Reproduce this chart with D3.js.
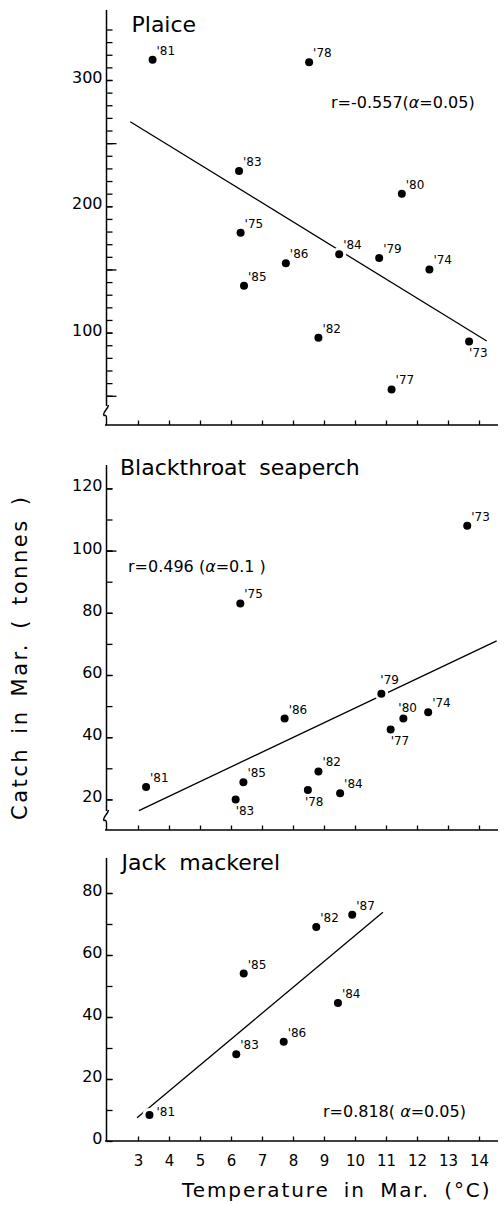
<!DOCTYPE html>
<html><head><meta charset="utf-8">
<script src="https://cdn.jsdelivr.net/npm/d3@7"></script>
<style>body{margin:0;background:#fff}svg{display:block}</style>
</head><body>
<svg id="c" width="504" height="1206"></svg>
<script>
// ---------- data ----------
const tempTicks = [3,4,5,6,7,8,9,10,11,12,13,14];

const plaiceYears = ["'73","'74","'75","'77","'78","'79","'80","'81","'82","'83","'84","'85","'86"];
const plaiceTemp  = [13.68,12.40,6.31,11.18,8.52,10.78,11.51,3.47,8.82,6.26,9.49,6.42,7.77];
const plaiceCatch = [93,150,179,55,314,159,210,316,96,228,162,137,155];
const plaiceLabelPos = ["br","ur","ur","ur","ur","ur","ur","ur","ur","ur","ur","ur","ur"];
const plaiceFitT = [2.75,14.25];
const plaiceFitC = [267,93.3];
const plaiceYTicks = [100,200,300];

const perchYears = ["'73","'74","'75","'77","'78","'79","'80","'81","'82","'83","'84","'85","'86"];
const perchTemp  = [13.62,12.36,6.30,11.15,8.48,10.85,11.56,3.26,8.82,6.15,9.52,6.40,7.73];
const perchCatch = [108,48,83,42.5,23,54,46,24,29,20,22,25.5,46];
const perchLabelPos = ["ur","ur","ur","br","bl","u","ul","ur","ur","br","ur","ur","ur"];
const perchFitT = [3.03,14.57];
const perchFitC = [16.4,71];
const perchYTicks = [20,40,60,80,100,120];

const mackYears = ["'81","'82","'83","'84","'85","'86","'87"];
const mackTemp  = [3.37,8.75,6.17,9.45,6.41,7.70,9.91];
const mackCatch = [8.4,69,28,44.5,54,32,73];
const mackLabelPos = ["r","ur","ur","ur","ur","ur","ur"];
const mackFitT = [2.97,10.90];
const mackFitC = [7.5,73.8];
const mackYTicks = [0,20,40,60,80];

const titles = ["Plaice","Blackthroat seaperch","Jack mackerel"];
const rTexts = [["r=-0.557(","α","=0.05)"],["r=0.496 (","α","=0.1 )"],["r=0.818( ","α","=0.05)"]];
const xTitle = "Temperature in Mar. (°C)";
const yTitle = "Catch in Mar. ( tonnes )";

// ---------- layout ----------
const svg = d3.select("#c");
svg.append("rect").attr("width",504).attr("height",1206).attr("fill","#fff");
const FONT = "'DejaVu Sans', Verdana, sans-serif";
const x = d3.scaleLinear().domain([2,14.6]).range([107,497.6]);

const panels = [
  {years:plaiceYears,t:plaiceTemp,c:plaiceCatch,pos:plaiceLabelPos,fitT:plaiceFitT,fitC:plaiceFitC,
   labels:plaiceYTicks, y:d3.scaleLinear().domain([0,300]).range([458.9,80]),
   minor:d3.range(50,341,10), longT:[50,150,250], top:10, axisY:425, brk:true,
   title:titles[0], titleXY:[131.5,32], r:rTexts[0], rXY:[331,108], xlabels:false},
  {years:perchYears,t:perchTemp,c:perchCatch,pos:perchLabelPos,fitT:perchFitT,fitC:perchFitC,
   labels:perchYTicks, y:d3.scaleLinear().domain([0,120]).range([861.6,488.4]),
   minor:d3.range(20,121,10), longT:[100], top:465, axisY:830, brk:true,
   title:titles[1], titleXY:[120,475], r:rTexts[1], rXY:[128,572], xlabels:false},
  {years:mackYears,t:mackTemp,c:mackCatch,pos:mackLabelPos,fitT:mackFitT,fitC:mackFitC,
   labels:mackYTicks, y:d3.scaleLinear().domain([0,80]).range([1141,893]),
   minor:d3.range(10,81,10), longT:[], top:858, axisY:1141, brk:false,
   title:titles[2], titleXY:[121.5,870], r:rTexts[2], rXY:[323,1117], xlabels:true}
];

const off = {ur:[4,-5], u:[-1,-10], ul:[-5,-7], br:[0,16], bl:[-3,16], r:[7,1]};
const AX = 106.5;

panels.forEach(p => {
  const g = svg.append("g");
  const y = p.y;
  if (p.brk) {
    g.append("line").attr("x1",AX).attr("x2",AX).attr("y1",p.top).attr("y2",p.axisY-19)
      .attr("stroke","#000").attr("stroke-width",1.5);
    g.append("path").attr("d",`M${AX+2},${p.axisY-20} C${AX+1},${p.axisY-15} ${AX-3},${p.axisY-14} ${AX-3},${p.axisY-10}`)
      .attr("fill","none").attr("stroke","#000").attr("stroke-width",1.4);
    g.append("path").attr("d",`M${AX-3},${p.axisY-9} C${AX-1},${p.axisY-11} ${AX},${p.axisY-9} ${AX},${p.axisY-7} L${AX},${p.axisY}`)
      .attr("fill","none").attr("stroke","#000").attr("stroke-width",1.4);
  } else {
    g.append("line").attr("x1",AX).attr("x2",AX).attr("y1",p.top).attr("y2",p.axisY)
      .attr("stroke","#000").attr("stroke-width",1.5);
  }
  g.append("line").attr("x1",105).attr("x2",498).attr("y1",p.axisY).attr("y2",p.axisY)
    .attr("stroke","#000").attr("stroke-width",1.6);

  const gm = g.append("g").attr("transform",`translate(${AX},0)`)
    .call(d3.axisLeft(y).tickValues(p.minor).tickSize(-6).tickFormat(""));
  gm.select(".domain").remove();
  if (p.longT.length) {
    const gl = g.append("g").attr("transform",`translate(${AX},0)`)
      .call(d3.axisLeft(y).tickValues(p.longT).tickSize(-10).tickFormat(""));
    gl.select(".domain").remove();
  }
  const gyl = g.append("g").attr("transform",`translate(${AX},0)`)
    .call(d3.axisLeft(y).tickValues(p.labels).tickSize(-6).tickPadding(4).tickFormat(d3.format("d")));
  gyl.select(".domain").remove();
  gyl.selectAll("text").attr("font-family",FONT).attr("font-size",16).attr("fill","#000").attr("dy","0.15em");
  g.selectAll(".tick line").attr("stroke","#000").attr("stroke-width",1.3);

  const gx = g.append("g").attr("transform",`translate(0,${p.axisY})`)
    .call(d3.axisBottom(x).tickValues(tempTicks).tickSize(-4.5).tickPadding(14)
      .tickFormat(p.xlabels ? d3.format("d") : ""));
  gx.select(".domain").remove();
  gx.selectAll("line").attr("stroke","#000").attr("stroke-width",1.3);
  gx.selectAll("text").attr("font-family",FONT).attr("font-size",15).attr("fill","#000");

  const fit = p.fitT.map((t,i)=>[t,p.fitC[i]]);
  g.append("path").datum(fit)
    .attr("d", d3.line().x(d=>x(d[0])).y(d=>y(d[1])))
    .attr("fill","none").attr("stroke","#000").attr("stroke-width",1.3);

  const pts = p.years.map((yr,i)=>({yr, t:p.t[i], c:p.c[i], pos:p.pos[i]}));
  g.selectAll("circle.halo").data(pts).join("circle").attr("class","halo")
    .attr("cx",d=>x(d.t)).attr("cy",d=>y(d.c)).attr("r",7).attr("fill","#fff");
  g.selectAll("circle.dot").data(pts).join("circle").attr("class","dot")
    .attr("cx",d=>x(d.t)).attr("cy",d=>y(d.c)).attr("r",4).attr("fill","#000");
  g.selectAll("text.yr").data(pts).join("text").attr("class","yr")
    .attr("x",d=>x(d.t)+off[d.pos][0]).attr("y",d=>y(d.c)+off[d.pos][1])
    .attr("font-family",FONT).attr("font-size",12).attr("fill","#000")
    .text(d=>d.yr);

  g.append("text").attr("x",p.titleXY[0]).attr("y",p.titleXY[1])
    .attr("font-family",FONT).attr("font-size",22).attr("word-spacing",6).attr("fill","#000").text(p.title);
  const rt = g.append("text").attr("x",p.rXY[0]).attr("y",p.rXY[1])
    .attr("font-family",FONT).attr("font-size",16).attr("fill","#000");
  rt.append("tspan").text(p.r[0]);
  rt.append("tspan").attr("font-style","italic").text(p.r[1]);
  rt.append("tspan").text(p.r[2]);
});

svg.append("text").attr("x",182).attr("y",1197)
  .attr("font-family",FONT).attr("font-size",20).attr("letter-spacing",1.9).attr("word-spacing",6)
  .attr("fill","#000").text(xTitle);
svg.append("text").attr("transform","translate(27,820) rotate(-90)")
  .attr("font-family",FONT).attr("font-size",21).attr("letter-spacing",2.5).attr("word-spacing",4)
  .attr("fill","#000").text(yTitle);
</script>
</body></html>
